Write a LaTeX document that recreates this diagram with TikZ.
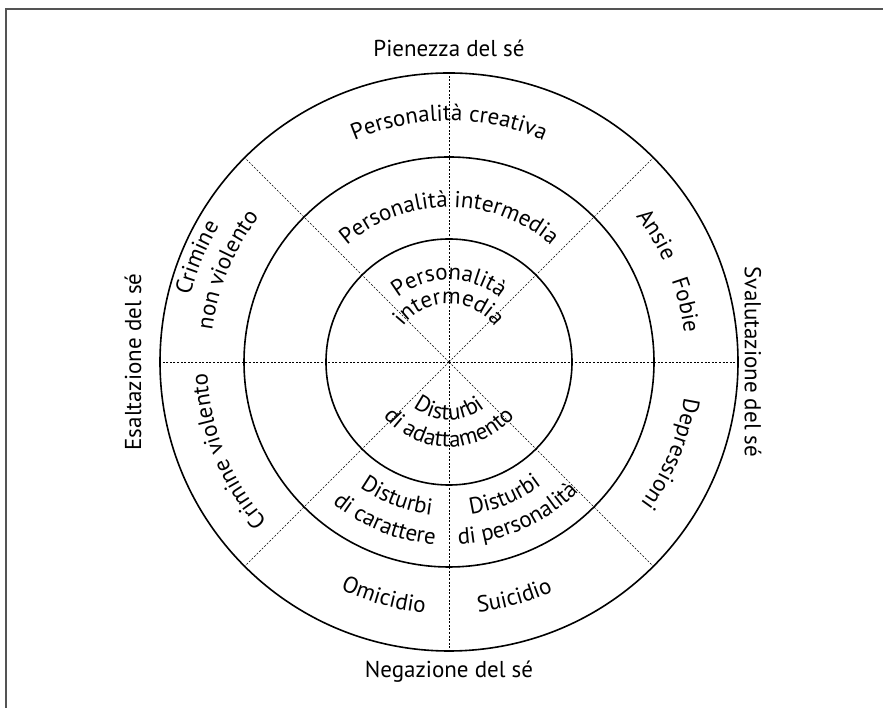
\documentclass[tikz,border=0pt]{standalone}
\usepackage{fontspec}
\setmainfont{PT Sans}
\usetikzlibrary{decorations.text}
\newcommand\ringfont{\fontsize{23}{27}\selectfont}
% text set clockwise along an arc (letter tops outward): angle, radius, half span, text
\newcommand\cwtext[4]{%
  \path[shift={(O)}, decorate, decoration={text along path, text align=center, text={|\ringfont|#4}}]
    (#1+#3:#2) arc[start angle=#1+#3, end angle=#1-#3, radius=#2];}
% text set counter-clockwise along an arc (letter tops inward)
\newcommand\ccwtext[4]{%
  \path[shift={(O)}, decorate, decoration={text along path, text align=center, text={|\ringfont|#4}}]
    (#1-#3:#2) arc[start angle=#1-#3, end angle=#1+#3, radius=#2];}
\begin{document}
\begin{tikzpicture}[x=1pt,y=1pt,
  ring/.style={line width=1.6pt},
  ray/.style={line width=0.6pt, dash pattern=on 2pt off 1.6pt},
  frameline/.style={draw=black!67, line width=2.6pt},
  axislabel/.style={font=\fontsize{23}{27}\selectfont, inner sep=0pt},
]
\useasboundingbox (0,0) rectangle (883,708);
\coordinate (O) at (449,346);
% frame (top and left edges)
\coordinate (fa) at (6,0);
\coordinate (fb) at (6,699);
\coordinate (fc) at (883,699);
\draw[frameline] (fa) -- (fb) -- (fc);
% dashed rays
\foreach \a in {0,45,...,315} {
  \path (O) ++(\a:289) coordinate (e\a);
  \draw[ray] (O) -- (e\a);
}
% rings
\draw[ring] (O) circle[radius=123];
\draw[ring] (O) circle[radius=205];
\draw[ring] (O) circle[radius=289];
% axis labels
\node[axislabel] (ltop) at (449,660) {Pienezza del sé};
\node[axislabel] (lbot) at (449,36) {Negazione del sé};
\node[axislabel, rotate=90] (lleft) at (133,346) {Esaltazione del sé};
\node[axislabel, rotate=-90] (lright) at (753,346) {Svalutazione del sé};
% outer ring
\cwtext{90}{241}{60}{Personalità creativa}
\cwtext{31.5}{237}{20}{Ansie}
\cwtext{13.5}{237}{20}{Fobie}
\cwtext{-22.5}{238}{40}{Depressioni}
\ccwtext{-74.5}{252}{30}{Suicidio}
\ccwtext{-105.5}{252}{30}{Omicidio}
\cwtext{202}{242}{40}{Crimine violento}
\cwtext{157.5}{267}{40}{Crimine}
\cwtext{157.5}{239}{40}{non violento}
% middle ring
\cwtext{90}{155}{70}{Personalità intermedia}
\ccwtext{249}{154}{40}{Disturbi}
\ccwtext{248}{183}{40}{di carattere}
\ccwtext{-67.5}{154}{40}{Disturbi}
\ccwtext{-66}{183}{40}{di personalità}
% inner disc
\cwtext{90}{82}{80}{Personalità}
\cwtext{90}{58}{80}{intermedia}
\ccwtext{270}{58}{80}{Disturbi}
\ccwtext{270}{85}{80}{di adattamento}
\end{tikzpicture}
\end{document}
